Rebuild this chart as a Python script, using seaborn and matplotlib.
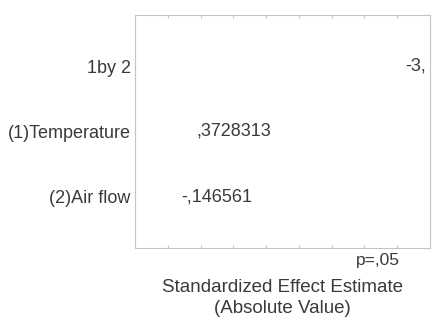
import matplotlib
matplotlib.use("Agg")
import matplotlib.pyplot as plt
import matplotlib.transforms as mtransforms
import seaborn as sns
import pandas as pd

effects = ["1by 2", "(1)Temperature", "(2)Air flow"]
values = [3.55, 0.3728313, 0.146561]
labels = ["-3,", ",3728313", "-,146561"]
p_crit = 3.2
p_label = "p=,05"

sns.set_theme(style="white")
plt.rcParams['font.family'] = ['Liberation Sans', 'DejaVu Sans']

txt = "#3a3a3a"
frame = "#c4c4c4"

fig = plt.figure(figsize=(4.32, 3.2), dpi=100)
ax = fig.add_axes([135/432, 72/320, 295/432, 233/320])

df = pd.DataFrame({"effect": effects, "value": values})
sns.barplot(data=df, x="value", y="effect", orient="h", color="white",
            edgecolor="white", ax=ax, width=0.6)

ax.set_xlim(-0.5, 4.0)
ax.set_ylim(2.79, -0.79)
ax.set_xticks([0, 0.5, 1, 1.5, 2, 2.5, 3, 3.5])
ax.set_xticklabels([])
ax.tick_params(axis="x", direction="in", length=2.5, width=0.8, color=frame,
               top=True, bottom=True)
ax.tick_params(axis="y", length=0, labelsize=13, labelcolor=txt, pad=3)
ax.set_xlabel("")
ax.set_ylabel("")
for s in ax.spines.values():
    s.set_color(frame)
    s.set_linewidth(0.8)

off = mtransforms.offset_copy(ax.transData, fig=fig, x=4.3, y=0, units="dots")
for i, (v, lab) in enumerate(zip(values, labels)):
    ax.text(v, i, lab, transform=off, ha="left", va="center",
            fontsize=13, color=txt, clip_on=True)

blend = mtransforms.blended_transform_factory(ax.transData, fig.transFigure)
ax.text(p_crit, 1 - 260/320, p_label, transform=blend, ha="center", va="center",
        fontsize=12.5, color=txt)

fig.text(282.5/432, 1 - 298/320, "Standardized Effect Estimate\n(Absolute Value)",
         ha="center", va="center", fontsize=13.5, color=txt, linespacing=1.25)

fig.savefig("out.png", dpi=100)
